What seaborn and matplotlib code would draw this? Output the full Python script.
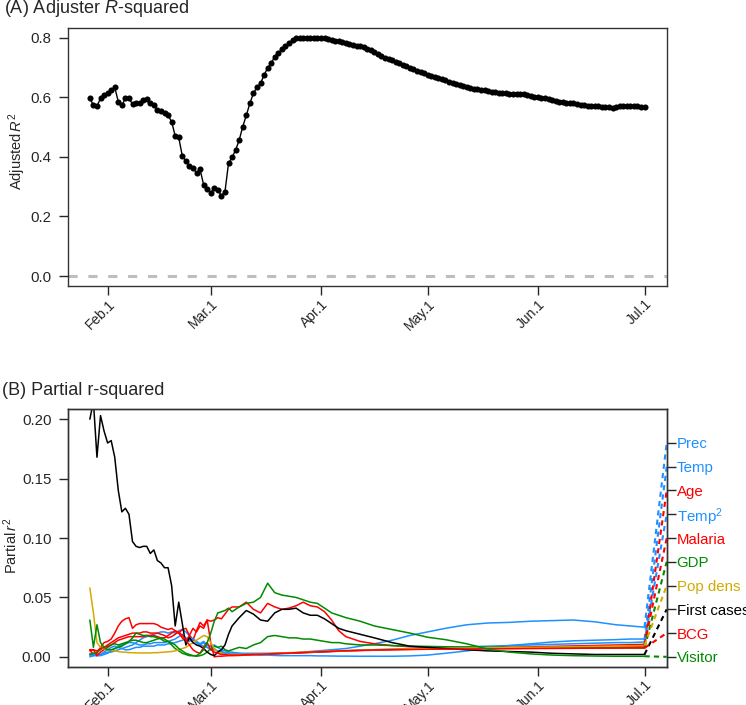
import pandas as pd
import matplotlib
matplotlib.use("Agg")
import matplotlib.pyplot as plt
import seaborn as sns

# ---------------- data ----------------
start_day = "2020-01-27"

# (A) adjusted R^2, one value per day from Jan 27 to Jul 1
adj_r2 = [
    0.596, 0.573, 0.570, 0.596, 0.607, 0.615, 0.623, 0.633, 0.585, 0.573,
    0.596, 0.596, 0.577, 0.579, 0.581, 0.590, 0.594, 0.581, 0.573, 0.557,
    0.555, 0.546, 0.539, 0.518, 0.470, 0.465, 0.403, 0.386, 0.369, 0.364,
    0.345, 0.358, 0.306, 0.291, 0.280, 0.295, 0.289, 0.270, 0.283, 0.378,
    0.398, 0.423, 0.456, 0.501, 0.539, 0.579, 0.613, 0.633, 0.646, 0.674,
    0.698, 0.715, 0.735, 0.749, 0.760, 0.771, 0.782, 0.791, 0.797, 0.798,
    0.798, 0.799, 0.800, 0.800, 0.800, 0.799, 0.798, 0.796, 0.793, 0.790,
    0.787, 0.784, 0.781, 0.778, 0.775, 0.773, 0.770, 0.767, 0.763, 0.759,
    0.752, 0.745, 0.738, 0.733, 0.728, 0.723, 0.719, 0.714, 0.709, 0.704,
    0.699, 0.694, 0.689, 0.684, 0.680, 0.676, 0.672, 0.668, 0.664, 0.660,
    0.656, 0.651, 0.647, 0.644, 0.641, 0.638, 0.635, 0.632, 0.629, 0.627,
    0.625, 0.623, 0.621, 0.619, 0.617, 0.615, 0.614, 0.613, 0.612, 0.611,
    0.611, 0.612, 0.609, 0.606, 0.604, 0.602, 0.600, 0.598, 0.596, 0.594,
    0.591, 0.588, 0.585, 0.583, 0.582, 0.582, 0.581, 0.578, 0.575, 0.573,
    0.572, 0.571, 0.570, 0.569, 0.568, 0.567, 0.566, 0.565, 0.566, 0.571,
    0.570, 0.570, 0.569, 0.569, 0.569, 0.568, 0.568,
]

# (B) partial r^2, days counted from start_day
part_day = [
    0, 1, 2, 3, 4, 5, 6, 7, 8, 9,
    10, 11, 12, 13, 14, 15, 16, 17, 18, 19,
    20, 21, 22, 23, 24, 25, 26, 27, 28, 29,
    30, 31, 32, 33, 34, 35, 36, 37, 38, 39,
    40, 42, 44, 46, 48, 50, 52, 54, 56, 58,
    60, 62, 64, 66, 68, 70, 72, 76, 80, 85,
    90, 95, 100, 106, 112, 118, 124, 130, 136, 142,
    148, 152, 156,
]
prec = [
    0.001, 0.001, 0.001, 0.001, 0.002, 0.003, 0.005, 0.007, 0.009, 0.010,
    0.011, 0.012, 0.012, 0.011, 0.010, 0.010, 0.011, 0.011, 0.012, 0.012,
    0.012, 0.012, 0.013, 0.014, 0.015, 0.017, 0.019, 0.016, 0.013, 0.015,
    0.012, 0.010, 0.009, 0.008, 0.007, 0.006, 0.005, 0.004, 0.003, 0.003,
    0.002, 0.002, 0.002, 0.002, 0.002, 0.002, 0.0025, 0.003, 0.003, 0.0035,
    0.004, 0.0045, 0.005, 0.0055, 0.006, 0.0065, 0.007, 0.009, 0.011, 0.014,
    0.018, 0.021, 0.024, 0.027, 0.0285, 0.029, 0.030, 0.0305, 0.031, 0.0295,
    0.027, 0.026, 0.025,
]
temp = [
    0.000, 0.001, 0.002, 0.002, 0.003, 0.004, 0.004, 0.005, 0.006, 0.007,
    0.008, 0.009, 0.010, 0.012, 0.014, 0.016, 0.017, 0.018, 0.019, 0.020,
    0.021, 0.021, 0.020, 0.021, 0.020, 0.022, 0.023, 0.021, 0.018, 0.015,
    0.012, 0.010, 0.012, 0.008, 0.006, 0.007, 0.004, 0.005, 0.003, 0.004,
    0.003, 0.003, 0.002, 0.002, 0.0015, 0.0015, 0.0012, 0.001, 0.001, 0.001,
    0.001, 0.001, 0.0008, 0.0008, 0.0007, 0.0006, 0.0006, 0.0005, 0.0005, 0.0005,
    0.0008, 0.0015, 0.003, 0.005, 0.0075, 0.0095, 0.011, 0.0125, 0.0135, 0.014,
    0.0145, 0.015, 0.015,
]
age = [
    0.006, 0.002, 0.003, 0.008, 0.012, 0.013, 0.015, 0.020, 0.026, 0.030,
    0.032, 0.033, 0.024, 0.027, 0.028, 0.028, 0.028, 0.028, 0.028, 0.027,
    0.025, 0.024, 0.023, 0.024, 0.022, 0.020, 0.023, 0.024, 0.018, 0.014,
    0.022, 0.029, 0.026, 0.031, 0.030, 0.031, 0.033, 0.032, 0.036, 0.040,
    0.042, 0.042, 0.046, 0.040, 0.037, 0.045, 0.042, 0.040, 0.041, 0.043,
    0.046, 0.043, 0.042, 0.038, 0.031, 0.022, 0.017, 0.013, 0.011, 0.0095,
    0.0085, 0.008, 0.0078, 0.0076, 0.0075, 0.0075, 0.0076, 0.0078, 0.008, 0.0082,
    0.0085, 0.0088, 0.009,
]
temp2 = [
    0.003, 0.002, 0.001, 0.002, 0.004, 0.006, 0.008, 0.009, 0.008, 0.007,
    0.006, 0.006, 0.007, 0.008, 0.008, 0.009, 0.009, 0.009, 0.009, 0.010,
    0.010, 0.010, 0.011, 0.011, 0.012, 0.013, 0.014, 0.015, 0.016, 0.015,
    0.013, 0.011, 0.013, 0.010, 0.009, 0.010, 0.008, 0.006, 0.005, 0.004,
    0.004, 0.003, 0.003, 0.003, 0.003, 0.003, 0.003, 0.003, 0.003, 0.0032,
    0.0035, 0.0038, 0.004, 0.0042, 0.0045, 0.0048, 0.005, 0.0055, 0.006, 0.0065,
    0.007, 0.0075, 0.008, 0.0085, 0.009, 0.0095, 0.010, 0.0105, 0.011, 0.0115,
    0.012, 0.012, 0.0125,
]
malaria = [
    0.005, 0.006, 0.001, 0.004, 0.006, 0.008, 0.010, 0.012, 0.014, 0.015,
    0.016, 0.017, 0.017, 0.017, 0.017, 0.017, 0.018, 0.018, 0.018, 0.017,
    0.016, 0.016, 0.018, 0.020, 0.022, 0.020, 0.016, 0.013, 0.018, 0.024,
    0.021, 0.026, 0.024, 0.031, 0.012, 0.000, 0.0005, 0.0005, 0.0008, 0.001,
    0.001, 0.0012, 0.0015, 0.0018, 0.002, 0.0022, 0.0025, 0.0028, 0.003, 0.0032,
    0.0035, 0.0037, 0.004, 0.0042, 0.0045, 0.0047, 0.005, 0.0053, 0.0056, 0.006,
    0.0063, 0.0066, 0.007, 0.0073, 0.0077, 0.008, 0.0084, 0.0088, 0.0092, 0.0096,
    0.010, 0.0102, 0.0105,
]
gdp = [
    0.002, 0.003, 0.004, 0.006, 0.008, 0.009, 0.010, 0.011, 0.010, 0.011,
    0.012, 0.013, 0.014, 0.014, 0.013, 0.012, 0.012, 0.013, 0.014, 0.015,
    0.016, 0.015, 0.013, 0.010, 0.007, 0.005, 0.003, 0.002, 0.001, 0.001,
    0.0005, 0.001, 0.002, 0.004, 0.007, 0.009, 0.008, 0.009, 0.006, 0.005,
    0.006, 0.008, 0.007, 0.010, 0.012, 0.017, 0.018, 0.017, 0.016, 0.016,
    0.015, 0.015, 0.014, 0.013, 0.012, 0.012, 0.011, 0.010, 0.010, 0.0095,
    0.009, 0.0088, 0.0085, 0.0082, 0.008, 0.0078, 0.0077, 0.0076, 0.0075, 0.0075,
    0.0075, 0.0075, 0.0075,
]
pop_dens = [
    0.058, 0.037, 0.012, 0.008, 0.007, 0.006, 0.0055, 0.005, 0.0045, 0.004,
    0.004, 0.0035, 0.0035, 0.0033, 0.0033, 0.0033, 0.0033, 0.0033, 0.0035, 0.0035,
    0.0038, 0.004, 0.0042, 0.0045, 0.005, 0.006, 0.007, 0.008, 0.010, 0.012,
    0.014, 0.016, 0.018, 0.017, 0.012, 0.007, 0.004, 0.003, 0.002, 0.002,
    0.002, 0.002, 0.002, 0.0022, 0.0025, 0.0027, 0.003, 0.0032, 0.0035, 0.0037,
    0.004, 0.0042, 0.0044, 0.0046, 0.0048, 0.005, 0.0052, 0.0056, 0.006, 0.0064,
    0.0068, 0.007, 0.0072, 0.0074, 0.0076, 0.0078, 0.008, 0.0082, 0.0085, 0.0088,
    0.009, 0.0092, 0.0095,
]
first_cases = [
    0.200, 0.215, 0.168, 0.203, 0.190, 0.180, 0.182, 0.168, 0.140, 0.122,
    0.125, 0.120, 0.097, 0.093, 0.092, 0.093, 0.093, 0.087, 0.090, 0.081,
    0.079, 0.075, 0.075, 0.060, 0.026, 0.046, 0.028, 0.010, 0.016, 0.012,
    0.010, 0.009, 0.007, 0.004, 0.002, 0.001, 0.004, 0.006, 0.010, 0.019,
    0.026, 0.033, 0.039, 0.036, 0.031, 0.030, 0.037, 0.040, 0.040, 0.041,
    0.037, 0.035, 0.035, 0.032, 0.028, 0.024, 0.022, 0.019, 0.016, 0.012,
    0.009, 0.008, 0.007, 0.006, 0.005, 0.0045, 0.004, 0.003, 0.0025, 0.002,
    0.002, 0.002, 0.002,
]
bcg = [
    0.006, 0.006, 0.005, 0.007, 0.008, 0.010, 0.012, 0.014, 0.016, 0.017,
    0.018, 0.019, 0.020, 0.020, 0.020, 0.021, 0.021, 0.020, 0.020, 0.020,
    0.019, 0.018, 0.016, 0.017, 0.019, 0.021, 0.018, 0.014, 0.010, 0.006,
    0.004, 0.003, 0.008, 0.012, 0.006, 0.004, 0.003, 0.002, 0.002, 0.0015,
    0.0015, 0.0015, 0.0018, 0.002, 0.0022, 0.0025, 0.0028, 0.003, 0.0032, 0.0035,
    0.0037, 0.004, 0.0042, 0.0045, 0.0047, 0.005, 0.0052, 0.0055, 0.0058, 0.006,
    0.0062, 0.0064, 0.0065, 0.0066, 0.0067, 0.0068, 0.007, 0.0071, 0.0072, 0.0073,
    0.0074, 0.0075, 0.0075,
]
visitor = [
    0.031, 0.008, 0.027, 0.012, 0.008, 0.006, 0.006, 0.007, 0.008, 0.009,
    0.011, 0.013, 0.016, 0.020, 0.019, 0.018, 0.018, 0.017, 0.017, 0.016,
    0.015, 0.013, 0.013, 0.012, 0.010, 0.007, 0.005, 0.003, 0.002, 0.001,
    0.001, 0.003, 0.006, 0.012, 0.020, 0.030, 0.037, 0.038, 0.039, 0.041,
    0.038, 0.042, 0.045, 0.046, 0.050, 0.062, 0.054, 0.052, 0.051, 0.050,
    0.048, 0.046, 0.045, 0.041, 0.037, 0.035, 0.033, 0.030, 0.026, 0.023,
    0.020, 0.0165, 0.0145, 0.011, 0.0065, 0.004, 0.0025, 0.0015, 0.001, 0.0007,
    0.0005, 0.0005, 0.0005,
]

var_names = ["Prec", "Temp", "Age", "Temp$^2$", "Malaria", "GDP",
             "Pop dens", "First cases", "BCG", "Visitor"]
var_values = [prec, temp, age, temp2, malaria, gdp,
              pop_dens, first_cases, bcg, visitor]
label_pos = [0.18, 0.16, 0.14, 0.12, 0.10, 0.08, 0.06, 0.04, 0.02, 0.00]

BLUE, RED, GREEN, GOLD = "#1E90FF", "#FF0000", "#008B00", "#D2AA00"
var_colors = [BLUE, BLUE, RED, BLUE, RED, GREEN, GOLD, "black", RED, GREEN]

tick_dates = ["2020-02-01", "2020-03-01", "2020-04-01",
              "2020-05-01", "2020-06-01", "2020-07-01"]
tick_labels = ["Feb.1", "Mar.1", "Apr.1", "May.1", "Jun.1", "Jul.1"]

# ---------------- frames ----------------
t0 = pd.Timestamp(start_day)
df_a = pd.DataFrame({"date": pd.date_range(t0, periods=len(adj_r2), freq="D"),
                     "r2": adj_r2})
b_dates = t0 + pd.to_timedelta(part_day, unit="D")
df_b = pd.concat([pd.DataFrame({"date": b_dates, "value": v, "var": n})
                  for n, v in zip(var_names, var_values)], ignore_index=True)

# ---------------- style ----------------
sns.set_style("ticks")
plt.rcParams["font.family"] = ["Liberation Sans", "DejaVu Sans"]
plt.rcParams["mathtext.fontset"] = "custom"
plt.rcParams["mathtext.rm"] = "Liberation Sans"
plt.rcParams["mathtext.it"] = "Liberation Sans:italic"
plt.rcParams["axes.edgecolor"] = "#333333"
plt.rcParams["axes.linewidth"] = 1.0

fig = plt.figure(figsize=(7.46, 7.05), dpi=100)
ax1 = fig.add_axes([0.0907, 0.5948, 0.8030, 0.3655])
ax2 = fig.add_axes([0.0907, 0.0543, 0.8030, 0.3651])

x_pad = pd.Timedelta(days=6.24)
x_lo = df_a["date"].iloc[0] - x_pad
x_hi = df_a["date"].iloc[-1] + x_pad
ticks = pd.to_datetime(tick_dates)

# ---- (A) ----
ax1.axhline(0, color="#BEBEBE", lw=2.2, ls=(0, (3, 3.5)), zorder=1)
sns.lineplot(data=df_a, x="date", y="r2", ax=ax1, color="black", lw=1.0,
             marker="o", markersize=4.4, markeredgewidth=0, zorder=3)
ax1.set_ylim(-0.032, 0.832)
ax1.set_yticks([0.0, 0.2, 0.4, 0.6, 0.8])
ax1.set_yticklabels(["0.0", "0.2", "0.4", "0.6", "0.8"])
ax1.set_ylabel("Adjusted$\\,R^2$", fontsize=10.5)
ax1.yaxis.set_label_coords(-0.066, 0.52)
ax1.set_xlabel("")

# ---- (B) ----
sns.lineplot(data=df_b, x="date", y="value", hue="var", hue_order=var_names,
             palette=dict(zip(var_names, var_colors)), ax=ax2, lw=1.1,
             legend=False, errorbar=None)
ax2.set_ylim(-0.0083, 0.2083)
ax2.set_yticks([0.0, 0.05, 0.10, 0.15, 0.20])
ax2.set_yticklabels(["0.00", "0.05", "0.10", "0.15", "0.20"])
ax2.set_ylabel("Partial$\\,r^2$", fontsize=10.5)
ax2.yaxis.set_label_coords(-0.079, 0.47)
ax2.set_xlabel("")

# dashed connectors from the last value to each label
last_date = b_dates[-1]
for vals, pos, col in zip(var_values, label_pos, var_colors):
    ax2.plot([last_date, x_hi], [vals[-1], pos], color=col, lw=1.5,
             ls=(0, (2.5, 2)), clip_on=False, zorder=4)

ax2r = ax2.twinx()
ax2r.set_ylim(ax2.get_ylim())
ax2r.set_yticks(label_pos)
ax2r.set_yticklabels(var_names, fontsize=10.8)
for lab, col in zip(ax2r.get_yticklabels(), var_colors):
    lab.set_color(col)
ax2r.tick_params(axis="y", direction="out", length=6.7, width=1, pad=0.5)

for ax in (ax1, ax2):
    ax.set_xlim(x_lo, x_hi)
    ax.set_xticks(ticks)
    ax.set_xticklabels(tick_labels, rotation=45, ha="right",
                       rotation_mode="anchor", fontsize=10)
    ax.tick_params(direction="out", length=6.7, width=1, pad=5,
                   labelsize=10.8)
    ax.tick_params(axis="x", labelsize=10, pad=1.5)
    for s in ax.spines.values():
        s.set_visible(True)

fig.text(0.006, 1 - 13 / 705, "(A) Adjuster $R$-squared", fontsize=13,
         va="baseline", ha="left")
fig.text(0.003, 1 - 395 / 705, "(B) Partial r-squared", fontsize=13,
         va="baseline", ha="left")

fig.savefig("out.png", dpi=100)
